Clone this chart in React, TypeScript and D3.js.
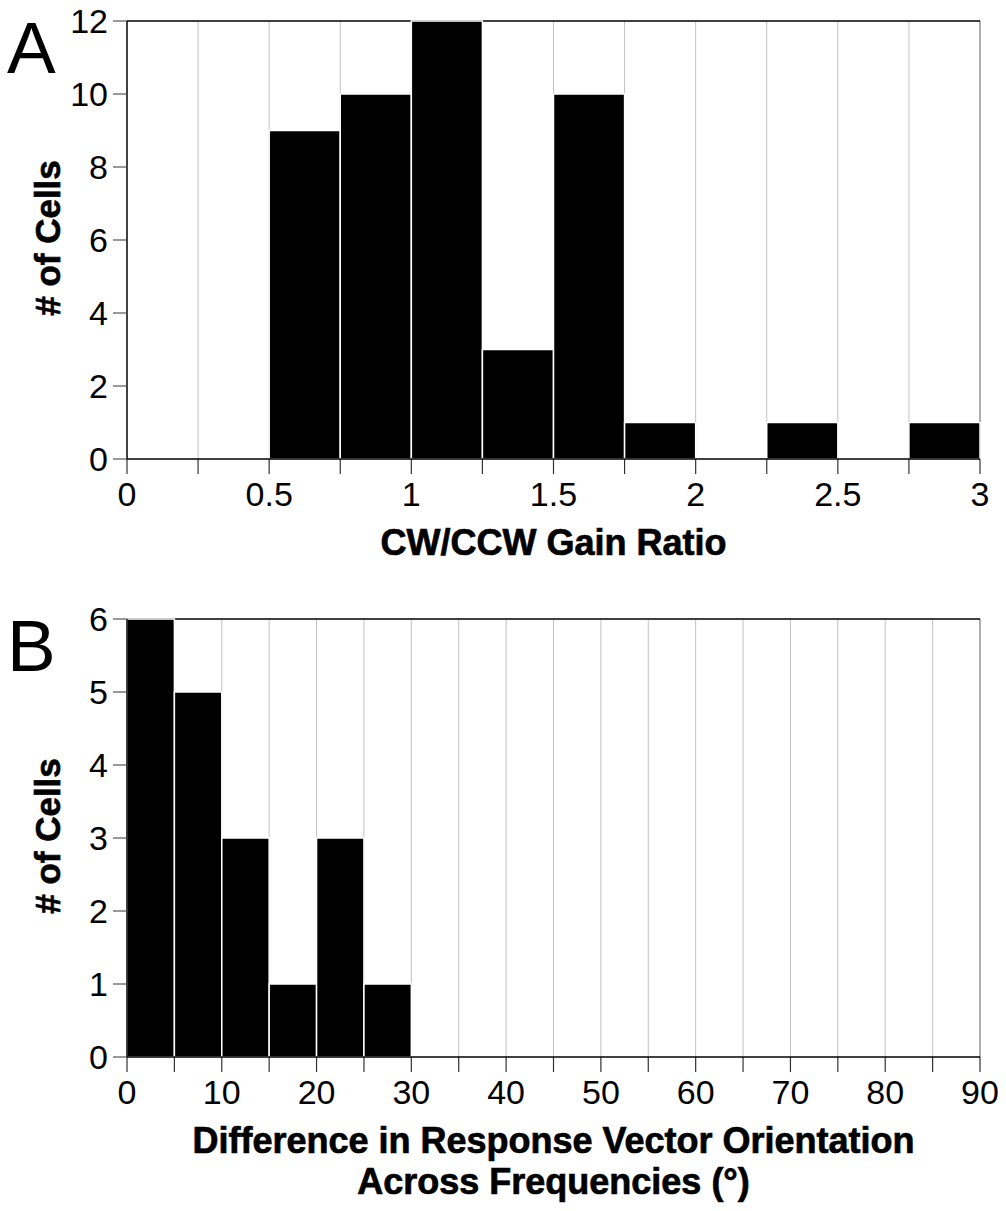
import React, { useEffect, useRef } from "react";
import * as d3 from "d3";

// Panel A: CW/CCW gain ratio, bins of 0.25
const gainBins = [0, 0.25, 0.5, 0.75, 1, 1.25, 1.5, 1.75, 2, 2.25, 2.5, 2.75];
const gainCounts = [0, 0, 9, 10, 12, 3, 10, 1, 0, 1, 0, 1];
const gainXTicks = [0, 0.5, 1, 1.5, 2, 2.5, 3];
const gainYTicks = [0, 2, 4, 6, 8, 10, 12];

// Panel B: orientation difference, bins of 5 degrees
const orientBins = [0, 5, 10, 15, 20, 25, 30, 35, 40, 45, 50, 55, 60, 65, 70, 75, 80, 85];
const orientCounts = [6, 5, 3, 1, 3, 1, 0, 0, 0, 0, 0, 0, 0, 0, 0, 0, 0, 0];
const orientXTicks = [0, 10, 20, 30, 40, 50, 60, 70, 80, 90];
const orientYTicks = [0, 1, 2, 3, 4, 5, 6];

const FONT = "'Liberation Sans', Arial, Helvetica, sans-serif";

type Panel = {
  letter: string;
  top: number;
  bottom: number;
  bins: number[];
  counts: number[];
  binWidth: number;
  xMax: number;
  yMax: number;
  xTicks: number[];
  yTicks: number[];
  titleLines: string[];
};

const panels: Panel[] = [
  {
    letter: "A",
    top: 21,
    bottom: 459,
    bins: gainBins,
    counts: gainCounts,
    binWidth: 0.25,
    xMax: 3,
    yMax: 12,
    xTicks: gainXTicks,
    yTicks: gainYTicks,
    titleLines: ["CW/CCW Gain Ratio"],
  },
  {
    letter: "B",
    top: 619,
    bottom: 1057,
    bins: orientBins,
    counts: orientCounts,
    binWidth: 5,
    xMax: 90,
    yMax: 6,
    xTicks: orientXTicks,
    yTicks: orientYTicks,
    titleLines: ["Difference in Response Vector Orientation", "Across Frequencies (°)"],
  },
];

const left = 127;
const right = 980;

const App = () => {
  const svgRef = useRef<SVGSVGElement>(null);

  useEffect(() => {
    const svg = d3.select(svgRef.current);
    svg.selectAll("*").remove();

    panels.forEach((p) => {
      const g = svg.append("g");
      const x = d3.scaleLinear().domain([0, p.xMax]).range([left, right]);
      const y = d3.scaleLinear().domain([0, p.yMax]).range([p.bottom, p.top]);
      const edges = p.bins.concat([p.xMax]);

      // grid lines at bin edges
      g.selectAll(".grid")
        .data(edges.slice(1, -1))
        .enter()
        .append("line")
        .attr("x1", (d) => x(d))
        .attr("x2", (d) => x(d))
        .attr("y1", p.top)
        .attr("y2", p.bottom)
        .attr("stroke", "#c2c2c2")
        .attr("stroke-width", 1);

      // right edge
      g.append("line")
        .attr("x1", right)
        .attr("x2", right)
        .attr("y1", p.top)
        .attr("y2", p.bottom)
        .attr("stroke", "#777")
        .attr("stroke-width", 1.2);

      // top border
      g.append("line")
        .attr("x1", left)
        .attr("x2", right)
        .attr("y1", p.top)
        .attr("y2", p.top)
        .attr("stroke", "#000")
        .attr("stroke-width", 1.3);

      // bars
      g.selectAll(".bar")
        .data(p.bins.map((b, i) => ({ b, c: p.counts[i] })).filter((d) => d.c > 0))
        .enter()
        .append("rect")
        .attr("x", (d) => x(d.b))
        .attr("y", (d) => y(d.c))
        .attr("width", (d) => x(d.b + p.binWidth) - x(d.b))
        .attr("height", (d) => y(0) - y(d.c))
        .attr("fill", "#000")
        .attr("stroke", "#fff")
        .attr("stroke-width", 1.5);

      // x axis ticks at bin edges
      g.selectAll(".xtick")
        .data(edges)
        .enter()
        .append("line")
        .attr("x1", (d) => x(d))
        .attr("x2", (d) => x(d))
        .attr("y1", p.bottom)
        .attr("y2", p.bottom + 15)
        .attr("stroke", "#333")
        .attr("stroke-width", 1.2);

      // baseline + left axis
      g.append("line")
        .attr("x1", left)
        .attr("x2", right)
        .attr("y1", p.bottom)
        .attr("y2", p.bottom)
        .attr("stroke", "#000")
        .attr("stroke-width", 1.5);
      g.append("line")
        .attr("x1", left)
        .attr("x2", left)
        .attr("y1", p.top)
        .attr("y2", p.bottom)
        .attr("stroke", "#000")
        .attr("stroke-width", 1.5);

      // y ticks
      g.selectAll(".ytick")
        .data(p.yTicks)
        .enter()
        .append("line")
        .attr("x1", left - 14)
        .attr("x2", left)
        .attr("y1", (d) => y(d))
        .attr("y2", (d) => y(d))
        .attr("stroke", "#555")
        .attr("stroke-width", 1.2);

      g.selectAll(".ylabel")
        .data(p.yTicks)
        .enter()
        .append("text")
        .attr("x", left - 19)
        .attr("y", (d) => y(d) + 12)
        .attr("text-anchor", "end")
        .attr("font-family", FONT)
        .attr("font-size", 34)
        .text((d) => d);

      g.selectAll(".xlabel")
        .data(p.xTicks)
        .enter()
        .append("text")
        .attr("x", (d) => x(d))
        .attr("y", p.bottom + 47)
        .attr("text-anchor", "middle")
        .attr("font-family", FONT)
        .attr("font-size", 34)
        .text((d) => d);

      // axis titles
      p.titleLines.forEach((t, i) => {
        g.append("text")
          .attr("x", (left + right) / 2)
          .attr("y", p.bottom + 96 + i * 41)
          .attr("text-anchor", "middle")
          .attr("font-family", FONT)
          .attr("font-weight", "bold")
          .attr("font-size", 36)
          .attr("stroke", "#000")
          .attr("stroke-width", 0.7)
          .text(t);
      });

      g.append("text")
        .attr("transform", `translate(60, ${(p.top + p.bottom) / 2 - 2}) rotate(-90)`)
        .attr("text-anchor", "middle")
        .attr("font-family", FONT)
        .attr("font-weight", "bold")
        .attr("font-size", 35)
        .attr("stroke", "#000")
        .attr("stroke-width", 0.7)
        .text("# of Cells");

      // panel letter
      g.append("text")
        .attr("x", 7)
        .attr("y", p.top + 52)
        .attr("font-family", FONT)
        .attr("font-size", 73)
        .text(p.letter);
    });
  }, []);

  return (
    <svg
      ref={svgRef}
      width={1006}
      height={1211}
      style={{ position: "absolute", left: 0, top: 0, background: "#fff" }}
    />
  );
};

export default App;
